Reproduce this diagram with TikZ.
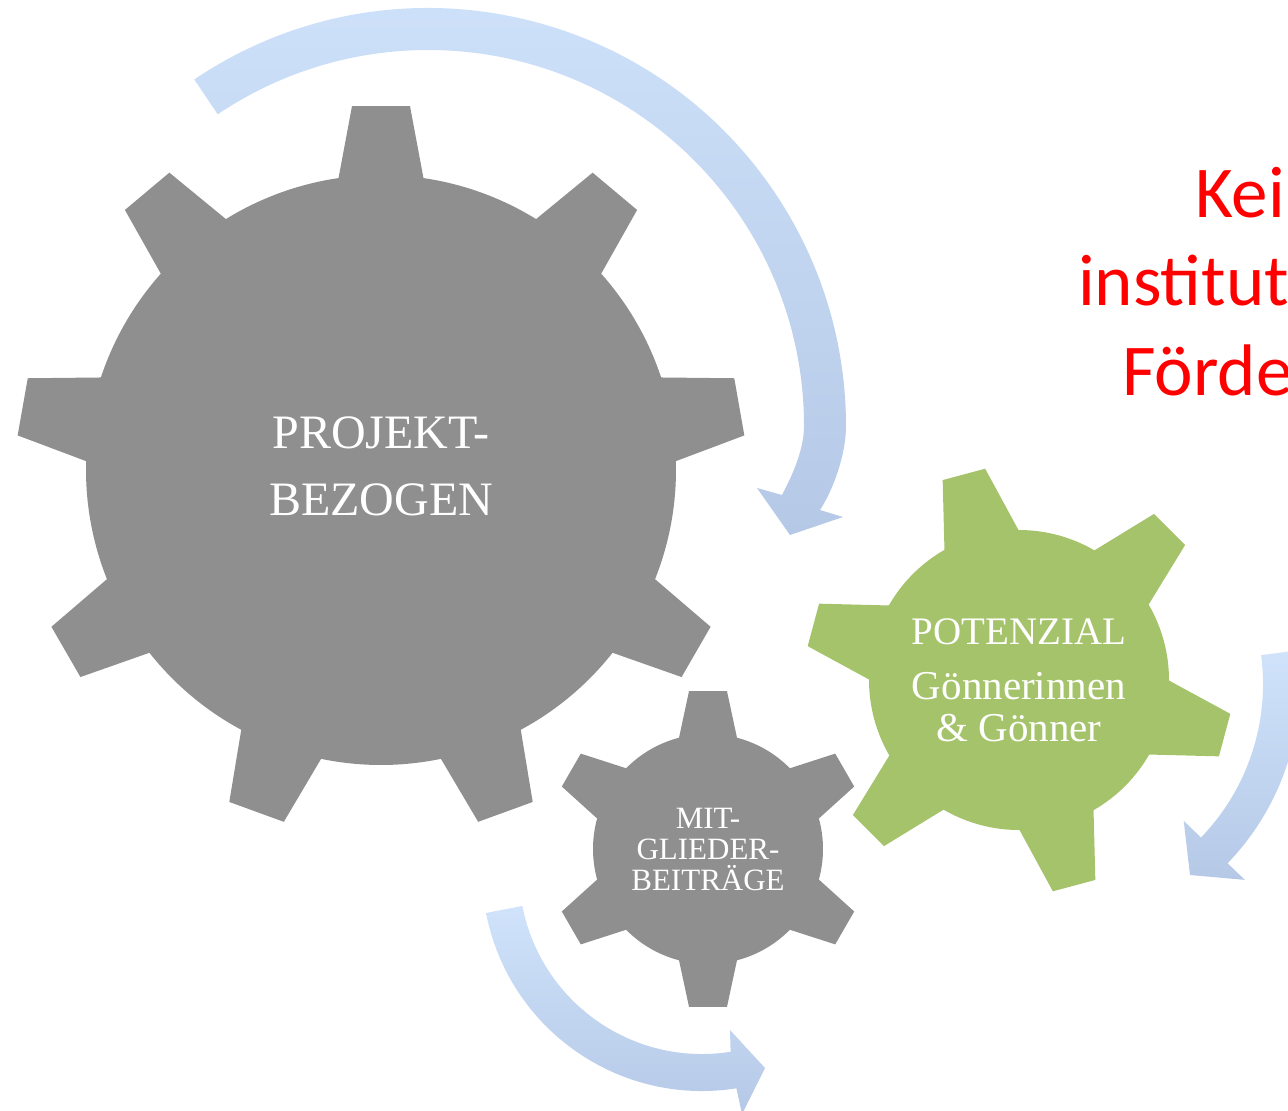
\documentclass[tikz,border=0pt]{standalone}
\usepackage{fontspec}
\setmainfont{Liberation Serif}
\newfontfamily\notefont{Carlito}
\definecolor{cogdark}{HTML}{8F8F8F}
\definecolor{coggreen}{HTML}{A5C36A}
\definecolor{flowtop}{HTML}{D0E3FB}
\definecolor{flowbottom}{HTML}{B5C8E6}
\definecolor{notered}{HTML}{FF0000}

% teeth, first tooth angle, body radius, tip radius, half base angle, half tip angle, colour
\newcommand{\cogwheel}[7]{%
  \pgfmathsetmacro{\cogstep}{360/#1}
  \fill[#7] ({#2-#5}:#3)
  \foreach \k in {1,...,#1} {
    -- ({#2+(\k-1)*\cogstep-#6}:#4) -- ({#2+(\k-1)*\cogstep+#6}:#4)
    -- ({#2+(\k-1)*\cogstep+#5}:#3)
    arc[start angle={#2+(\k-1)*\cogstep+#5}, end angle={#2+\k*\cogstep-#5}, radius=#3]
  } -- cycle;
}

\begin{document}
\begin{tikzpicture}[x=1pt,y=1pt,
  cogtext/.style={text=white, align=center, inner sep=0pt},
  flow/.style={top color=flowtop, bottom color=flowbottom},
  note/.style={text=notered, anchor=base west, inner sep=0pt,
    font=\notefont\fontsize{73}{88}\selectfont}]
\useasboundingbox (0,0) rectangle (1288,-1111);

\coordinate (bigc) at (381,-470);
\coordinate (smallc) at (708,-849);
\coordinate (greenc) at (1019,-680);

\begin{scope}[shift={(bigc)}]
  \cogwheel{9}{90}{295}{365}{8.28}{4.56}{cogdark}
\end{scope}
\begin{scope}[shift={(smallc)}]
  \cogwheel{6}{90}{115}{159}{14.6}{6.86}{cogdark}
\end{scope}
\begin{scope}[shift={(greenc)}]
  \cogwheel{6}{105}{150}{214}{14.8}{5.9}{coggreen}
\end{scope}

% arrows
\begin{scope}[shift={(428,-426)}]
  \shade[flow] (124:418) arc[start angle=124, end angle=0, radius=418]
    .. controls (418,-30) and (404,-66) .. (392,-84)
    -- (415,-91) -- (362,-109) -- (329,-62) -- (354,-69)
    .. controls (364,-50) and (376,-24) .. (0:376)
    arc[start angle=0, end angle=124, radius=376] -- cycle;
\end{scope}
\begin{scope}[shift={(1042,-684)}]
  \shade[flow] (7.5:221) arc[start angle=7.5, end angle=-44, radius=221]
    -- (-44:197) -- (148,-191) -- (-44:282)
    -- (-44:258) arc[start angle=-44, end angle=7.5, radius=258] -- cycle;
\end{scope}
\begin{scope}[shift={(702,-871)}]
  \shade[flow] (191:220) arc[start angle=191, end angle=279, radius=220]
    -- (40,-243) -- (63,-197) -- (28,-159)
    -- (279:183) arc[start angle=279, end angle=191, radius=183] -- cycle;
\end{scope}

\node[cogtext, font=\fontsize{48}{67}\selectfont] (projekt) at ([yshift=4]bigc) {PROJEKT-\\BEZOGEN};
\node[cogtext, font=\fontsize{41}{42}\selectfont] (potenzial) at (greenc)
  {{\fontsize{39}{42}\selectfont POTENZIAL}\\[13pt]Gönnerinnen\\\& Gönner};
\node[cogtext, font=\fontsize{31}{31}\selectfont] (beitraege) at (smallc)
  {MIT-\\GLIEDER-\\BEITRÄGE};

\node[note] (kei) at (1195,-217) {Kei};
\node[note] (institut) at (1078,-305) {institut};
\node[note] (foerde) at (1122,-395) {Förde};
\end{tikzpicture}
\end{document}
